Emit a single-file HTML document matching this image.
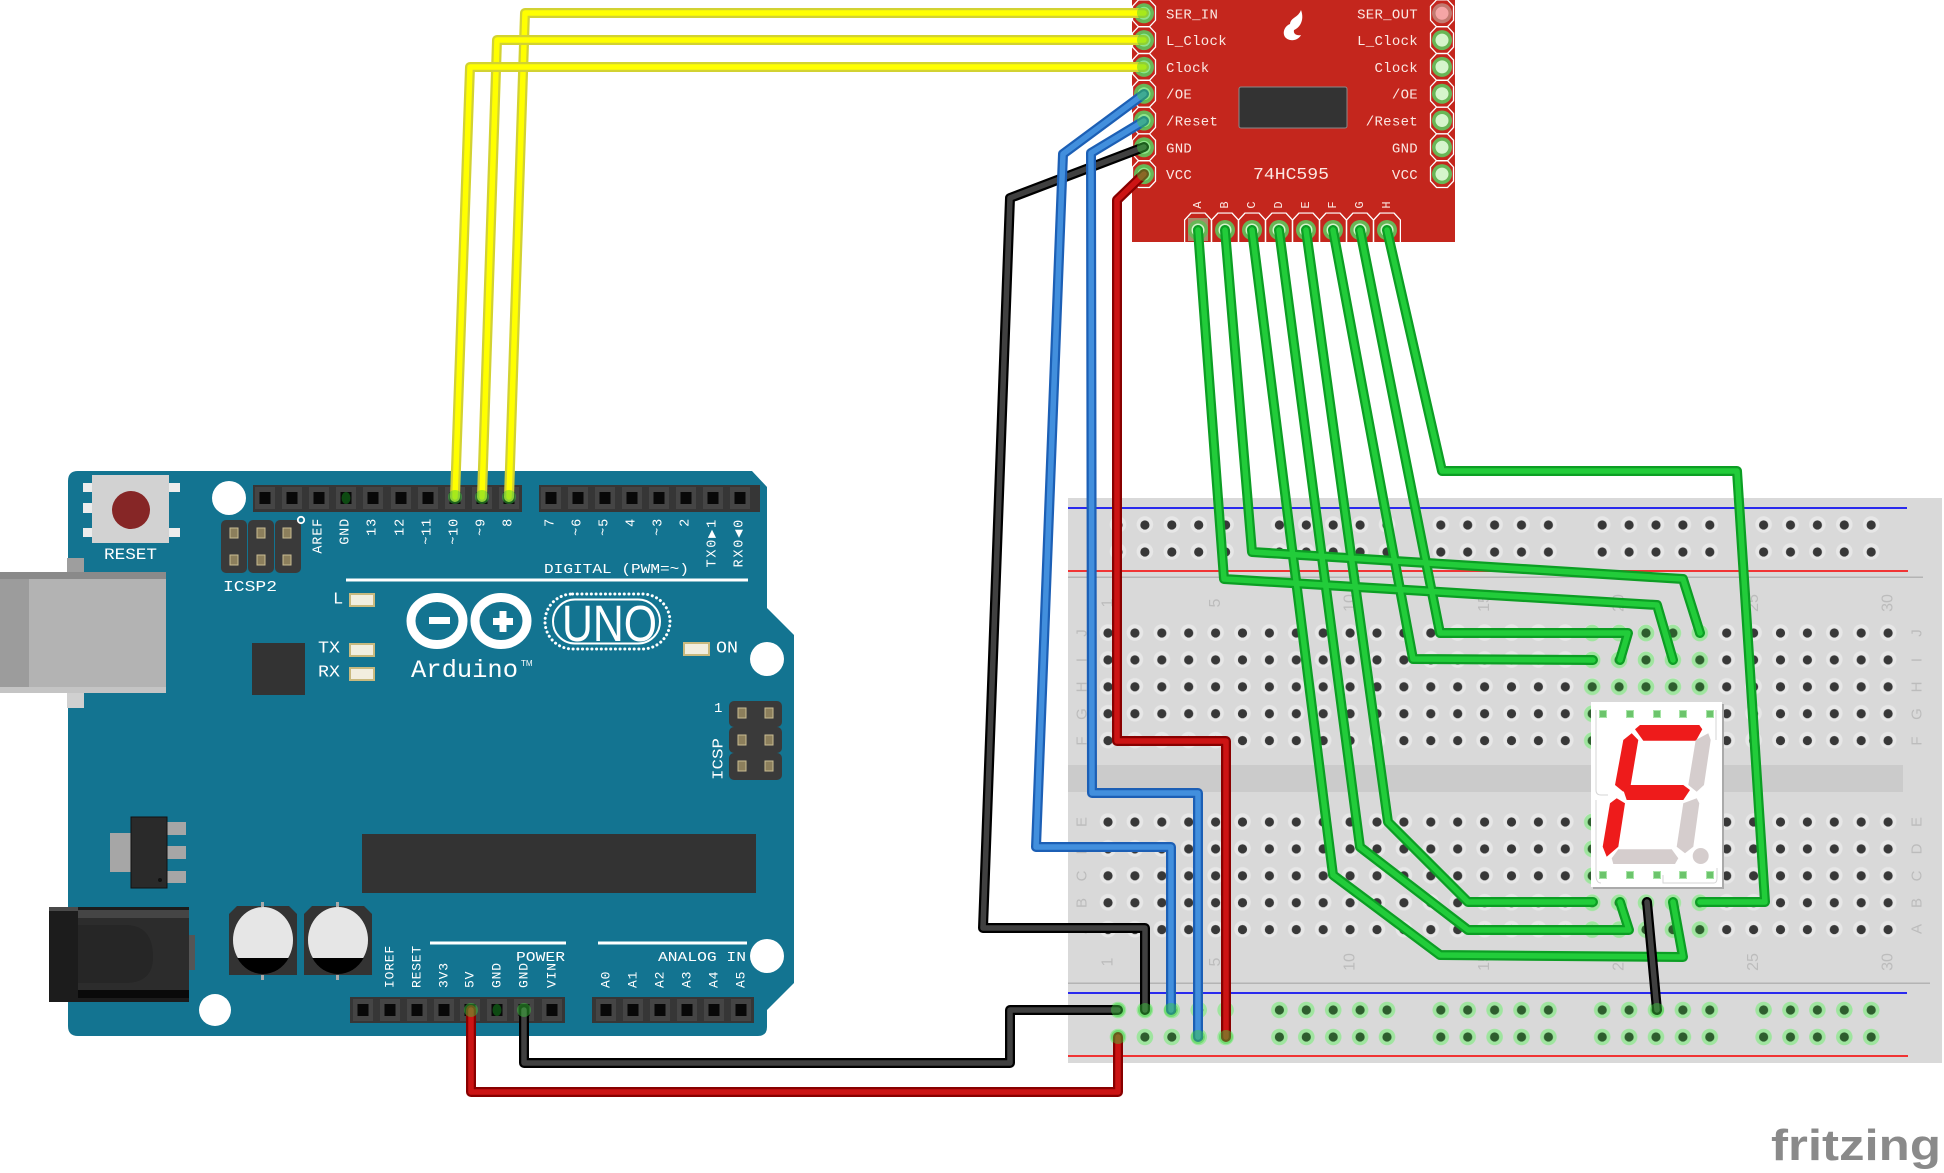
<!DOCTYPE html>
<html><head><meta charset="utf-8"><style>
html,body{margin:0;padding:0;background:#fff;}
svg{display:block;}
.m{font-family:"Liberation Mono","DejaVu Sans Mono",monospace;}
.s{font-family:"Liberation Sans","DejaVu Sans",sans-serif;}
</style></head><body>
<svg width="1944" height="1173" viewBox="0 0 1944 1173" xmlns="http://www.w3.org/2000/svg" xmlns:xlink="http://www.w3.org/1999/xlink">
<defs>
<pattern id="hFJ" patternUnits="userSpaceOnUse" x="1094.55" y="619.55" width="26.9" height="26.9">
<circle cx="13.45" cy="13" r="8.3" fill="#e7e7e7"/><circle cx="13.45" cy="13.45" r="4.6" fill="#383838"/></pattern>
<pattern id="hAE" patternUnits="userSpaceOnUse" x="1094.55" y="808.55" width="26.9" height="26.9">
<circle cx="13.45" cy="13" r="8.3" fill="#e7e7e7"/><circle cx="13.45" cy="13.45" r="4.6" fill="#383838"/></pattern>
<pattern id="gFJ" patternUnits="userSpaceOnUse" x="1094.55" y="619.55" width="26.9" height="26.9">
<circle cx="13.45" cy="13.45" r="8.3" fill="#9fe59f"/><circle cx="13.45" cy="13.45" r="4.6" fill="#2e5d2e"/></pattern>
<pattern id="gAE" patternUnits="userSpaceOnUse" x="1094.55" y="808.55" width="26.9" height="26.9">
<circle cx="13.45" cy="13.45" r="8.3" fill="#9fe59f"/><circle cx="13.45" cy="13.45" r="4.6" fill="#2e5d2e"/></pattern>
<pattern id="rT" patternUnits="userSpaceOnUse" x="1104.55" y="511.5" width="161.4" height="27">
<g fill="#e7e7e7"><circle cx="13.45" cy="13" r="8.3"/><circle cx="40.35" cy="13" r="8.3"/><circle cx="67.25" cy="13" r="8.3"/><circle cx="94.15" cy="13" r="8.3"/><circle cx="121.05" cy="13" r="8.3"/></g>
<g fill="#383838"><circle cx="13.45" cy="13.5" r="4.6"/><circle cx="40.35" cy="13.5" r="4.6"/><circle cx="67.25" cy="13.5" r="4.6"/><circle cx="94.15" cy="13.5" r="4.6"/><circle cx="121.05" cy="13.5" r="4.6"/></g></pattern>
<pattern id="rB" patternUnits="userSpaceOnUse" x="1104.55" y="996.5" width="161.4" height="27">
<g fill="#9fe59f"><circle cx="13.45" cy="13.5" r="8.3"/><circle cx="40.35" cy="13.5" r="8.3"/><circle cx="67.25" cy="13.5" r="8.3"/><circle cx="94.15" cy="13.5" r="8.3"/><circle cx="121.05" cy="13.5" r="8.3"/></g>
<g fill="#2e5d2e"><circle cx="13.45" cy="13.5" r="4.6"/><circle cx="40.35" cy="13.5" r="4.6"/><circle cx="67.25" cy="13.5" r="4.6"/><circle cx="94.15" cy="13.5" r="4.6"/><circle cx="121.05" cy="13.5" r="4.6"/></g></pattern>
<polygon id="octV" points="-11.5,-7 -5.5,-13.4 5.5,-13.4 11.5,-7 11.5,7 5.5,13.4 -5.5,13.4 -11.5,7" fill="none" stroke="#fff" stroke-width="1.3"/>
<polygon id="octH" points="-13.4,-10 -7,-17 7,-17 13.4,-10 13.4,14 -13.4,14" fill="none" stroke="#fff" stroke-width="1.3"/>
<g id="pad"><circle r="10" fill="#68b656"/><circle r="6.5" fill="#d6f5cc"/></g>
<g id="hp"><rect x="-10" y="-11" width="20" height="22" fill="#454545"/><rect x="-5.5" y="-6" width="11" height="12" fill="#080808"/></g>
<g id="ip"><rect x="-4" y="-5" width="8" height="10" fill="#8c7f5c" stroke="#c9bc92" stroke-width="1"/></g>
</defs>

<!-- ============ ARDUINO ============ -->
<path d="M78,471 H752 L767,487 V608 L794,635 V983 L767,1010 V1027 Q767,1036 758,1036 H78 Q68,1036 68,1026 V481 Q68,471 78,471Z" fill="#137491"/>
<!-- USB -->
<rect x="67" y="558" width="17" height="15" fill="#9e9e9e"/>
<rect x="67" y="693" width="17" height="15" fill="#d0d0d0"/>
<rect x="0" y="572" width="166" height="121" fill="#b3b3b3"/>
<rect x="0" y="572" width="29" height="121" fill="#9c9c9c"/>
<rect x="0" y="572" width="166" height="7" fill="#8a8a8a"/>
<rect x="0" y="687" width="166" height="6" fill="#c4c4c4"/>
<!-- reset -->
<g fill="#ececec"><rect x="83" y="483" width="10" height="9"/><rect x="83" y="503" width="10" height="10"/><rect x="83" y="528" width="10" height="9"/>
<rect x="169" y="483" width="11" height="9"/><rect x="169" y="528" width="11" height="9"/></g>
<rect x="92" y="475" width="77" height="68" fill="#d2d2d2"/>
<circle cx="131" cy="510" r="19" fill="#862626"/>
<text class="m" x="104" y="559" font-size="16" fill="#fff" textLength="53" lengthAdjust="spacingAndGlyphs">RESET</text>
<circle cx="229" cy="498" r="17" fill="#fff"/>
<!-- ICSP2 -->
<g fill="#3a3a3a"><rect x="221" y="520" width="26" height="53" rx="5"/><rect x="248" y="520" width="26" height="53" rx="5"/><rect x="275" y="520" width="26" height="53" rx="5"/></g>
<use xlink:href="#ip" x="234" y="533"/><use xlink:href="#ip" x="261" y="533"/><use xlink:href="#ip" x="287" y="533"/>
<use xlink:href="#ip" x="234" y="560"/><use xlink:href="#ip" x="261" y="560"/><use xlink:href="#ip" x="287" y="560"/>
<text class="m" x="223" y="591" font-size="15" fill="#fff" textLength="54" lengthAdjust="spacingAndGlyphs">ICSP2</text>
<circle cx="301" cy="520" r="3.2" fill="none" stroke="#fff" stroke-width="1.8"/>
<!-- headers -->
<rect x="253" y="485" width="269" height="27" fill="#363636"/>
<rect x="539" y="485" width="221" height="27" fill="#363636"/>
<use xlink:href="#hp" x="265" y="498"/><use xlink:href="#hp" x="292" y="498"/><use xlink:href="#hp" x="319" y="498"/><use xlink:href="#hp" x="346" y="498"/><use xlink:href="#hp" x="373" y="498"/><use xlink:href="#hp" x="401" y="498"/><use xlink:href="#hp" x="428" y="498"/><use xlink:href="#hp" x="455" y="498"/><use xlink:href="#hp" x="482" y="498"/><use xlink:href="#hp" x="509" y="498"/>
<use xlink:href="#hp" x="551" y="498"/><use xlink:href="#hp" x="578" y="498"/><use xlink:href="#hp" x="605" y="498"/><use xlink:href="#hp" x="632" y="498"/><use xlink:href="#hp" x="659" y="498"/><use xlink:href="#hp" x="686" y="498"/><use xlink:href="#hp" x="713" y="498"/><use xlink:href="#hp" x="740" y="498"/>
<ellipse cx="346" cy="498" rx="4.5" ry="6" fill="#0d4a12"/>
<g class="m" font-size="13.5" fill="#fff" text-anchor="end" dominant-baseline="central" letter-spacing="0.8">
<text transform="translate(319,518) rotate(-90)">AREF</text>
<text transform="translate(346,518) rotate(-90)">GND</text>
<text transform="translate(373,518) rotate(-90)">13</text>
<text transform="translate(401,518) rotate(-90)">12</text>
<text transform="translate(428,518) rotate(-90)">~11</text>
<text transform="translate(455,518) rotate(-90)">~10</text>
<text transform="translate(482,518) rotate(-90)">~9</text>
<text transform="translate(509,518) rotate(-90)">8</text>
<text transform="translate(551,518) rotate(-90)">7</text>
<text transform="translate(578,518) rotate(-90)">~6</text>
<text transform="translate(605,518) rotate(-90)">~5</text>
<text transform="translate(632,518) rotate(-90)">4</text>
<text transform="translate(659,518) rotate(-90)">~3</text>
<text transform="translate(686,518) rotate(-90)">2</text>
<text transform="translate(713,518) rotate(-90)" letter-spacing="1.8">TX0▶1</text>
<text transform="translate(740,518) rotate(-90)" letter-spacing="1.8">RX0◀0</text>
</g>
<text class="m" x="544" y="573" font-size="14" fill="#fff" textLength="145" lengthAdjust="spacingAndGlyphs">DIGITAL (PWM=~)</text>
<rect x="346" y="578.5" width="402" height="3" fill="#fff"/>
<!-- LEDs -->
<g fill="#f2eedf" stroke="#c9b97e" stroke-width="2">
<rect x="350" y="594" width="24" height="12"/><rect x="350" y="644" width="24" height="12"/><rect x="350" y="668" width="24" height="12"/><rect x="684" y="643" width="25" height="12"/></g>
<g class="m" fill="#fff" font-size="17" dominant-baseline="central">
<text x="333" y="600">L</text>
<text x="318" y="649" textLength="22" lengthAdjust="spacingAndGlyphs">TX</text>
<text x="318" y="673" textLength="22" lengthAdjust="spacingAndGlyphs">RX</text>
<text x="716" y="649" textLength="22" lengthAdjust="spacingAndGlyphs">ON</text>
</g>
<rect x="252" y="643" width="53" height="52" fill="#333"/>
<!-- logo -->
<ellipse cx="437" cy="621" rx="26" ry="23.5" fill="none" stroke="#fff" stroke-width="9"/>
<ellipse cx="501" cy="621" rx="26" ry="23.5" fill="none" stroke="#fff" stroke-width="9"/>
<rect x="429" y="617" width="21" height="7" fill="#fff"/>
<rect x="493" y="618" width="20" height="7" fill="#fff"/><rect x="499.5" y="611" width="7" height="21" fill="#fff"/>
<rect x="545" y="594" width="125" height="55" rx="27.5" fill="none" stroke="#fff" stroke-width="3" stroke-dasharray="0.1 4.6" stroke-linecap="round"/>
<rect x="553" y="599.5" width="107" height="44" rx="22" fill="none" stroke="#fff" stroke-width="2"/>
<text class="s" x="562" y="641" font-size="51" fill="#fff" textLength="95" lengthAdjust="spacingAndGlyphs">UNO</text>
<text class="m" x="411" y="677" font-size="25" fill="#fff" textLength="107" lengthAdjust="spacingAndGlyphs">Arduino</text>
<text class="s" x="521" y="666" font-size="8" fill="#fff">TM</text>
<circle cx="767" cy="659" r="17" fill="#fff"/>
<!-- ICSP right -->
<g fill="#3a3a3a"><rect x="729" y="701" width="53" height="26" rx="5"/><rect x="729" y="727" width="53" height="26" rx="5"/><rect x="729" y="753" width="53" height="27" rx="5"/></g>
<use xlink:href="#ip" x="742" y="713"/><use xlink:href="#ip" x="769" y="713"/><use xlink:href="#ip" x="742" y="740"/><use xlink:href="#ip" x="769" y="740"/><use xlink:href="#ip" x="742" y="766"/><use xlink:href="#ip" x="769" y="766"/>
<text class="m" x="714" y="712" font-size="14" fill="#fff">1</text>
<text class="m" transform="translate(719,780) rotate(-90)" font-size="15" fill="#fff" dominant-baseline="central" textLength="42" lengthAdjust="spacingAndGlyphs">ICSP</text>
<!-- regulator -->
<rect x="110" y="833" width="21" height="39" fill="#a6a6a6"/>
<g fill="#a6a6a6"><rect x="167" y="822" width="19" height="13"/><rect x="167" y="846" width="19" height="13"/><rect x="167" y="871" width="19" height="12"/></g>
<rect x="131" y="817" width="36" height="71" fill="#2a2a2a" stroke="#111" stroke-width="1"/>
<circle cx="160" cy="880" r="2" fill="#111"/>
<!-- big chip -->
<rect x="362" y="834" width="394" height="59" fill="#333"/>
<!-- power jack -->
<rect x="189" y="935" width="6" height="35" fill="#555"/>
<rect x="49" y="907" width="140" height="95" fill="#1c1c1c"/>
<rect x="78" y="910" width="111" height="8" fill="#454545"/>
<rect x="78" y="918" width="111" height="72" fill="#2c2c2c"/>
<path d="M78,925 H125 Q153,925 153,957 Q153,983 125,983 H78Z" fill="#262626"/>
<rect x="49" y="907" width="29" height="4" fill="#4a4a4a"/>
<rect x="78" y="990" width="111" height="8" fill="#0a0a0a"/>
<!-- capacitors -->
<g>
<polygon points="237,906 289,906 297,914 297,975 229,975 229,914" fill="#333"/>
<rect x="261" y="902" width="3" height="5" fill="#aaa"/><rect x="261" y="975" width="3" height="5" fill="#aaa"/>
<ellipse cx="263" cy="940" rx="30" ry="33" fill="#e6e6e6"/>
<path d="M237.3,958 A30 33 0 0 0 288.7,958 Z" fill="#000"/>
<polygon points="312,906 364,906 372,914 372,975 304,975 304,914" fill="#333"/>
<rect x="336" y="902" width="3" height="5" fill="#aaa"/><rect x="336" y="975" width="3" height="5" fill="#aaa"/>
<ellipse cx="338" cy="940" rx="30" ry="33" fill="#e6e6e6"/>
<path d="M312.3,958 A30 33 0 0 0 363.7,958 Z" fill="#000"/>
</g>
<circle cx="215" cy="1010" r="16" fill="#fff"/>
<circle cx="767" cy="956" r="17" fill="#fff"/>
<!-- power / analog -->
<rect x="430" y="941.5" width="136" height="3" fill="#fff"/>
<rect x="598" y="941.5" width="149" height="3" fill="#fff"/>
<text class="m" x="516" y="961" font-size="14" fill="#fff" textLength="49" lengthAdjust="spacingAndGlyphs">POWER</text>
<text class="m" x="658" y="961" font-size="14" fill="#fff" textLength="88" lengthAdjust="spacingAndGlyphs">ANALOG IN</text>
<g class="m" font-size="13" fill="#fff" dominant-baseline="central" letter-spacing="0.8">
<text transform="translate(390,988) rotate(-90)">IOREF</text>
<text transform="translate(417,988) rotate(-90)">RESET</text>
<text transform="translate(444,988) rotate(-90)">3V3</text>
<text transform="translate(470,988) rotate(-90)">5V</text>
<text transform="translate(497,988) rotate(-90)">GND</text>
<text transform="translate(524,988) rotate(-90)">GND</text>
<text transform="translate(552,988) rotate(-90)">VIN</text>
<text transform="translate(606,988) rotate(-90)">A0</text>
<text transform="translate(633,988) rotate(-90)">A1</text>
<text transform="translate(660,988) rotate(-90)">A2</text>
<text transform="translate(687,988) rotate(-90)">A3</text>
<text transform="translate(714,988) rotate(-90)">A4</text>
<text transform="translate(741,988) rotate(-90)">A5</text>
</g>
<rect x="350" y="997" width="215" height="26" fill="#363636"/>
<rect x="592" y="997" width="162" height="26" fill="#363636"/>
<use xlink:href="#hp" x="363" y="1010"/><use xlink:href="#hp" x="390" y="1010"/><use xlink:href="#hp" x="417" y="1010"/><use xlink:href="#hp" x="444" y="1010"/><use xlink:href="#hp" x="470" y="1010"/><use xlink:href="#hp" x="497" y="1010"/><use xlink:href="#hp" x="524" y="1010"/><use xlink:href="#hp" x="552" y="1010"/>
<use xlink:href="#hp" x="606" y="1010"/><use xlink:href="#hp" x="633" y="1010"/><use xlink:href="#hp" x="660" y="1010"/><use xlink:href="#hp" x="687" y="1010"/><use xlink:href="#hp" x="714" y="1010"/><use xlink:href="#hp" x="741" y="1010"/>
<ellipse cx="497" cy="1010" rx="4.5" ry="6" fill="#0d4a12"/>

<!-- ============ BREADBOARD ============ -->
<rect x="1068" y="498" width="874" height="565" fill="#d9d9d9"/>
<rect x="1068" y="507" width="839" height="2" fill="#2a2aee"/>
<rect x="1068" y="570" width="840" height="2" fill="#f03434"/>
<rect x="1068" y="576.5" width="855" height="1.5" fill="#b4b4b4"/>
<rect x="1068" y="765" width="835" height="27" fill="#cbcbcb"/>
<rect x="1068" y="982.5" width="862" height="1.5" fill="#b4b4b4"/>
<rect x="1068" y="992" width="839" height="2" fill="#2a2aee"/>
<rect x="1068" y="1055" width="840" height="2" fill="#f03434"/>
<rect x="1104.55" y="511.5" width="807" height="54" fill="url(#rT)"/>
<rect x="1104.55" y="996.5" width="807" height="54" fill="url(#rB)"/>
<rect x="1094.55" y="619.55" width="807" height="134.5" fill="url(#hFJ)"/>
<rect x="1094.55" y="808.55" width="807" height="134.5" fill="url(#hAE)"/>
<rect x="1578.75" y="619.55" width="134.5" height="134.5" fill="url(#gFJ)"/>
<rect x="1578.75" y="808.55" width="134.5" height="134.5" fill="url(#gAE)"/>
<g class="s" font-size="16" fill="#bcbcbc" text-anchor="middle" dominant-baseline="central">
<text transform="translate(1108,603) rotate(-90)">1</text>
<text transform="translate(1215.6,603) rotate(-90)">5</text>
<text transform="translate(1350.1,603) rotate(-90)">10</text>
<text transform="translate(1484.6,603) rotate(-90)">15</text>
<text transform="translate(1619.1,603) rotate(-90)">20</text>
<text transform="translate(1753.6,603) rotate(-90)">25</text>
<text transform="translate(1888.1,603) rotate(-90)">30</text>
<text transform="translate(1108,962) rotate(-90)">1</text>
<text transform="translate(1215.6,962) rotate(-90)">5</text>
<text transform="translate(1350.1,962) rotate(-90)">10</text>
<text transform="translate(1484.6,962) rotate(-90)">15</text>
<text transform="translate(1619.1,962) rotate(-90)">20</text>
<text transform="translate(1753.6,962) rotate(-90)">25</text>
<text transform="translate(1888.1,962) rotate(-90)">30</text>
</g>
<g class="s" font-size="15" fill="#bcbcbc" text-anchor="middle" dominant-baseline="central">
<text transform="translate(1082,633) rotate(-90)">J</text><text transform="translate(1082,660) rotate(-90)">I</text><text transform="translate(1082,687) rotate(-90)">H</text><text transform="translate(1082,714) rotate(-90)">G</text><text transform="translate(1082,741) rotate(-90)">F</text>
<text transform="translate(1082,822) rotate(-90)">E</text><text transform="translate(1082,849) rotate(-90)">D</text><text transform="translate(1082,876) rotate(-90)">C</text><text transform="translate(1082,903) rotate(-90)">B</text><text transform="translate(1082,929) rotate(-90)">A</text>
<text transform="translate(1917,633) rotate(-90)">J</text><text transform="translate(1917,660) rotate(-90)">I</text><text transform="translate(1917,687) rotate(-90)">H</text><text transform="translate(1917,714) rotate(-90)">G</text><text transform="translate(1917,741) rotate(-90)">F</text>
<text transform="translate(1917,822) rotate(-90)">E</text><text transform="translate(1917,849) rotate(-90)">D</text><text transform="translate(1917,876) rotate(-90)">C</text><text transform="translate(1917,903) rotate(-90)">B</text><text transform="translate(1917,929) rotate(-90)">A</text>
</g>

<!-- ============ 7-SEGMENT ============ -->
<rect x="1593" y="704" width="131" height="185" fill="#aaa"/>
<rect x="1591" y="702" width="131" height="185" fill="#fff"/>
<path d="M1596,710 V790 Q1596,795 1601,795 H1608 M1716,710 V740 M1663,875 V883 H1714 Q1717,883 1717,878 V868 M1596,800 V875 Q1596,883 1601,883" fill="none" stroke="#d6d6d6" stroke-width="1"/>
<g fill="#6cc46c" stroke="#a6e4a6" stroke-width="1"><rect x="1599.5" y="710.5" width="7" height="7"/><rect x="1626.5" y="710.5" width="7" height="7"/><rect x="1653.5" y="710.5" width="7" height="7"/><rect x="1679.5" y="710.5" width="7" height="7"/><rect x="1706.5" y="710.5" width="7" height="7"/>
<rect x="1599.5" y="871.5" width="7" height="7"/><rect x="1626.5" y="871.5" width="7" height="7"/><rect x="1653.5" y="871.5" width="7" height="7"/><rect x="1679.5" y="871.5" width="7" height="7"/><rect x="1706.5" y="871.5" width="7" height="7"/></g>
<g fill="#ee1b1b">
<polygon points="1635,729.3 1640,725 1699.3,725 1702.3,729.3 1696,740.7 1643.3,740.7"/>
<polygon points="1631.7,733.3 1638.3,740 1630.7,785 1623.3,791.7 1615,785 1623.3,740"/>
<polygon points="1623.3,790 1630,785 1683.3,785 1690,790 1683.3,800 1626.7,800"/>
<polygon points="1616.7,798.3 1625,803.3 1618.3,846.7 1606.7,856.7 1602.7,846.7 1610,803.3"/>
</g>
<g fill="#d5cdcd">
<polygon points="1708.3,733.3 1710.7,740 1704,785 1696.7,791.7 1688.3,785 1695.7,740"/>
<polygon points="1696.7,798.3 1699.3,803.3 1693.3,846.7 1685,853.3 1676.7,846.7 1683.3,803.3"/>
<polygon points="1611.7,858.3 1618.3,849.3 1671.7,849.3 1678.3,858.3 1675,864 1613.3,864"/>
<circle cx="1700.7" cy="856" r="8"/>
</g>

<!-- ============ 74HC595 BOARD ============ -->
<rect x="1132" y="0" width="323" height="242" fill="#c4261d"/>
<use xlink:href="#octV" x="1144" y="13.3"/><use xlink:href="#octV" x="1144" y="40.1"/><use xlink:href="#octV" x="1144" y="66.9"/><use xlink:href="#octV" x="1144" y="93.7"/><use xlink:href="#octV" x="1144" y="120.5"/><use xlink:href="#octV" x="1144" y="147.3"/><use xlink:href="#octV" x="1144" y="174.1"/>
<use xlink:href="#octV" x="1442" y="13.3"/><use xlink:href="#octV" x="1442" y="40.1"/><use xlink:href="#octV" x="1442" y="66.9"/><use xlink:href="#octV" x="1442" y="93.7"/><use xlink:href="#octV" x="1442" y="120.5"/><use xlink:href="#octV" x="1442" y="147.3"/><use xlink:href="#octV" x="1442" y="174.1"/>
<use xlink:href="#pad" x="1144" y="13.3"/><use xlink:href="#pad" x="1144" y="40.1"/><use xlink:href="#pad" x="1144" y="66.9"/><use xlink:href="#pad" x="1144" y="93.7"/><use xlink:href="#pad" x="1144" y="120.5"/><use xlink:href="#pad" x="1144" y="147.3"/><use xlink:href="#pad" x="1144" y="174.1"/>
<circle cx="1442" cy="13.3" r="10" fill="#c27a70"/><circle cx="1442" cy="13.3" r="6.5" fill="#f5a5a5"/>
<use xlink:href="#pad" x="1442" y="40.1"/><use xlink:href="#pad" x="1442" y="66.9"/><use xlink:href="#pad" x="1442" y="93.7"/><use xlink:href="#pad" x="1442" y="120.5"/><use xlink:href="#pad" x="1442" y="147.3"/><use xlink:href="#pad" x="1442" y="174.1"/>
<g clip-path="inset(0)">
<use xlink:href="#octH" x="1198" y="230"/><use xlink:href="#octH" x="1225" y="230"/><use xlink:href="#octH" x="1252" y="230"/><use xlink:href="#octH" x="1279" y="230"/><use xlink:href="#octH" x="1306" y="230"/><use xlink:href="#octH" x="1333" y="230"/><use xlink:href="#octH" x="1360" y="230"/><use xlink:href="#octH" x="1387" y="230"/>
</g>
<rect x="1188" y="218" width="20" height="23" fill="#a88a6a"/>
<use xlink:href="#pad" x="1198" y="230"/><use xlink:href="#pad" x="1225" y="230"/><use xlink:href="#pad" x="1252" y="230"/><use xlink:href="#pad" x="1279" y="230"/><use xlink:href="#pad" x="1306" y="230"/><use xlink:href="#pad" x="1333" y="230"/><use xlink:href="#pad" x="1360" y="230"/><use xlink:href="#pad" x="1387" y="230"/>
<rect x="1132" y="242" width="330" height="8" fill="#fff"/>
<g class="m" font-size="14" fill="#fbe8e3" letter-spacing="0.3">
<text x="1166" y="18.3">SER_IN</text><text x="1166" y="45.1">L_Clock</text><text x="1166" y="71.9">Clock</text><text x="1166" y="98.7">/OE</text><text x="1166" y="125.5">/Reset</text><text x="1166" y="152.3">GND</text><text x="1166" y="179.1">VCC</text>
</g>
<g class="m" font-size="14" fill="#fbe8e3" letter-spacing="0.3" text-anchor="end">
<text x="1418" y="18.3">SER_OUT</text><text x="1418" y="45.1">L_Clock</text><text x="1418" y="71.9">Clock</text><text x="1418" y="98.7">/OE</text><text x="1418" y="125.5">/Reset</text><text x="1418" y="152.3">GND</text><text x="1418" y="179.1">VCC</text>
</g>
<rect x="1239" y="87" width="108" height="41" rx="2" fill="#333" stroke="#8a8a8a" stroke-width="1"/>
<text class="m" x="1253" y="179" font-size="17" fill="#fbe8e3" textLength="76" lengthAdjust="spacingAndGlyphs">74HC595</text>
<g class="m" font-size="12" fill="#fbe8e3" text-anchor="middle" dominant-baseline="central">
<text transform="translate(1198,205) rotate(-90)">A</text><text transform="translate(1225,205) rotate(-90)">B</text><text transform="translate(1252,205) rotate(-90)">C</text><text transform="translate(1279,205) rotate(-90)">D</text><text transform="translate(1306,205) rotate(-90)">E</text><text transform="translate(1333,205) rotate(-90)">F</text><text transform="translate(1360,205) rotate(-90)">G</text><text transform="translate(1387,205) rotate(-90)">H</text>
</g>
<path d="M1301,10 C1298,18 1291,17 1290,24 C1285,26 1282,32 1285,37 C1289,42 1298,41 1301,35 C1297,36 1293,34 1294,30 C1299,28 1305,21 1301,10 Z" fill="#fff"/>

<!-- ============ WIRES ============ -->
<g fill="none" stroke-linejoin="round" stroke-linecap="round">
<!-- green -->
<g stroke="#0c9e24" stroke-width="10">
<polyline points="1198,230 1224,579 1657,605 1673,660"/>
<polyline points="1225,230 1252,552 1683,579 1700,633"/>
<polyline points="1252,230 1333,875 1440,955 1683,957 1673,902"/>
<polyline points="1279,230 1360,847 1468,930 1629,930 1620,902"/>
<polyline points="1306,230 1388,822 1468,902 1593,902"/>
<polyline points="1333,230 1413,659 1593,660"/>
<polyline points="1360,230 1440,633 1628,633 1620,660"/>
<polyline points="1387,230 1442,471 1737,471 1765,902 1700,902"/>
</g>
<g stroke="#22cc3a" stroke-width="5.5">
<polyline points="1198,230 1224,579 1657,605 1673,660"/>
<polyline points="1225,230 1252,552 1683,579 1700,633"/>
<polyline points="1252,230 1333,875 1440,955 1683,957 1673,902"/>
<polyline points="1279,230 1360,847 1468,930 1629,930 1620,902"/>
<polyline points="1306,230 1388,822 1468,902 1593,902"/>
<polyline points="1333,230 1413,659 1593,660"/>
<polyline points="1360,230 1440,633 1628,633 1620,660"/>
<polyline points="1387,230 1442,471 1737,471 1765,902 1700,902"/>
</g>
<!-- black -->
<g stroke="#000" stroke-width="10">
<polyline points="1144,147 1010,198 983,928 1145,928 1145,1010"/>
<polyline points="524,1010 524,1063 1010,1063 1010,1010 1118,1010"/>
<polyline points="1647,902 1657,1010"/>
</g>
<g stroke="#404040" stroke-width="5.5">
<polyline points="1144,147 1010,198 983,928 1145,928 1145,1010"/>
<polyline points="524,1010 524,1063 1010,1063 1010,1010 1118,1010"/>
<polyline points="1647,902 1657,1010"/>
</g>
<!-- blue -->
<g stroke="#1c5fb5" stroke-width="10">
<polyline points="1144,94 1063,154 1036,847 1171,847 1171,1010"/>
<polyline points="1144,121 1091,153 1092,793 1198,793 1198,1037"/>
</g>
<g stroke="#428fdd" stroke-width="5.5">
<polyline points="1144,94 1063,154 1036,847 1171,847 1171,1010"/>
<polyline points="1144,121 1091,153 1092,793 1198,793 1198,1037"/>
</g>
<!-- red -->
<g stroke="#880000" stroke-width="10">
<polyline points="1144,174 1117,200 1117,741 1226,741 1226,1037"/>
<polyline points="471,1010 471,1092 1118,1092 1118,1037"/>
</g>
<g stroke="#cc1414" stroke-width="5.5">
<polyline points="1144,174 1117,200 1117,741 1226,741 1226,1037"/>
<polyline points="471,1010 471,1092 1118,1092 1118,1037"/>
</g>
<!-- yellow -->
<polyline points="1144,13 525,13 509,497" stroke="#d2d232" stroke-width="10"/>
<polyline points="1144,13 525,13 509,497" stroke="#ffff00" stroke-width="5.5"/>
<polyline points="1144,40 497,40 482,497" stroke="#d2d232" stroke-width="10"/>
<polyline points="1144,40 497,40 482,497" stroke="#ffff00" stroke-width="5.5"/>
<polyline points="1144,67 470,67 455,497" stroke="#d2d232" stroke-width="10"/>
<polyline points="1144,67 470,67 455,497" stroke="#ffff00" stroke-width="5.5"/>
</g>
<!-- connection highlights at wire ends -->
<g fill="#3ccf3c" fill-opacity="0.45">
<circle cx="1144" cy="13" r="7"/><circle cx="1144" cy="40" r="7"/><circle cx="1144" cy="67" r="7"/><circle cx="1144" cy="94" r="7"/><circle cx="1144" cy="121" r="7"/><circle cx="1144" cy="147" r="7"/><circle cx="1144" cy="174" r="7"/>
<circle cx="509" cy="497" r="7"/><circle cx="482" cy="497" r="7"/><circle cx="455" cy="497" r="7"/>
<circle cx="471" cy="1010" r="7"/><circle cx="524" cy="1010" r="7"/>
<circle cx="1118" cy="1010" r="7"/><circle cx="1145" cy="1010" r="7"/><circle cx="1171" cy="1010" r="7"/><circle cx="1118" cy="1037" r="7"/><circle cx="1198" cy="1037" r="7"/><circle cx="1226" cy="1037" r="7"/><circle cx="1657" cy="1010" r="7"/>
</g>

<!-- fritzing logo -->
<text class="s" x="1771" y="1160" font-size="44" font-weight="bold" fill="#8a8a8a" textLength="170" lengthAdjust="spacingAndGlyphs">fritzing</text>
</svg>
</body></html>
